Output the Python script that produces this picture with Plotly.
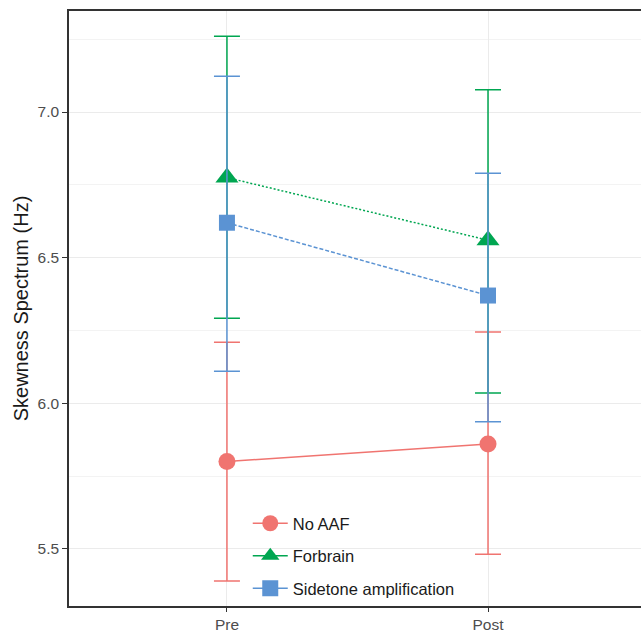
import plotly.graph_objects as go

times = ["Pre", "Post"]
groups = ["No AAF", "Forbrain", "Sidetone amplification"]
means = {
    "No AAF": [5.80, 5.86],
    "Forbrain": [6.775, 6.56],
    "Sidetone amplification": [6.62, 6.37],
}
upper = {
    "No AAF": [6.21, 6.245],
    "Forbrain": [7.26, 7.077],
    "Sidetone amplification": [7.123, 6.79],
}
lower = {
    "No AAF": [5.39, 5.482],
    "Forbrain": [6.292, 6.035],
    "Sidetone amplification": [6.11, 5.937],
}
colors = {"No AAF": "#F07470", "Forbrain": "#00A651", "Sidetone amplification": "#5B93D3"}
symbols = {"No AAF": "circle", "Forbrain": "triangle-up", "Sidetone amplification": "square"}
sizes = {"No AAF": 17, "Forbrain": 20, "Sidetone amplification": 16}
dashes = {"No AAF": "solid", "Forbrain": "2px,2px", "Sidetone amplification": "4px,2px"}

xpos = [1, 2]
fig = go.Figure()
for g in groups:
    m = means[g]
    fig.add_trace(go.Scatter(
        x=xpos, y=m, name=g, mode="lines+markers", legendgroup=g, showlegend=False,
        line=dict(color=colors[g], width=1.5, dash=dashes[g]),
        marker=dict(symbol=symbols[g], size=sizes[g], color=colors[g]),
        error_y=dict(type="data", symmetric=False,
                     array=[u - v for u, v in zip(upper[g], m)],
                     arrayminus=[v - l for v, l in zip(m, lower[g])],
                     color=colors[g], thickness=1.5, width=13),
    ))
    # legend key (solid line through marker, as in the original legend)
    fig.add_trace(go.Scatter(
        x=[None], y=[None], name=g, mode="lines+markers", legendgroup=g, showlegend=True,
        line=dict(color=colors[g], width=1.5),
        marker=dict(symbol=symbols[g], size=sizes[g], color=colors[g]),
    ))

fig.update_layout(
    width=641, height=641,
    margin=dict(l=69, r=0, t=11, b=35),
    paper_bgcolor="white", plot_bgcolor="white",
    font=dict(family="Liberation Sans, Arial, sans-serif", color="#4d4d4d"),
    showlegend=True,
    legend=dict(x=0.3125, y=0.0, xanchor="left", yanchor="bottom",
                bgcolor="rgba(0,0,0,0)", font=dict(size=16.5, color="#1a1a1a"),
                itemwidth=35, tracegroupgap=8),
    xaxis=dict(range=[0.395, 2.586], tickmode="array", tickvals=xpos, ticktext=times,
               showgrid=True, gridcolor="#ebebeb", gridwidth=1,
               showline=True, linecolor="#333333", linewidth=1.5, mirror=True,
               ticks="outside", ticklen=4, tickcolor="#333333",
               tickfont=dict(size=15.5, color="#4d4d4d"), zeroline=False),
    yaxis=dict(range=[5.304, 7.347], tick0=5.5, dtick=0.5, tickformat=".1f",
               showgrid=True, gridcolor="#ebebeb", gridwidth=1,
               minor=dict(dtick=0.25, tick0=5.25, showgrid=True, gridcolor="#f3f3f3", gridwidth=1),
               showline=True, linecolor="#333333", linewidth=1.5, mirror=False,
               ticks="outside", ticklen=5, tickcolor="#333333",
               tickfont=dict(size=15.5, color="#4d4d4d"), zeroline=False,
               title=dict(text="Skewness Spectrum (Hz)", font=dict(size=20, color="#1a1a1a"), standoff=4)),
)

fig.write_html("out.html")
